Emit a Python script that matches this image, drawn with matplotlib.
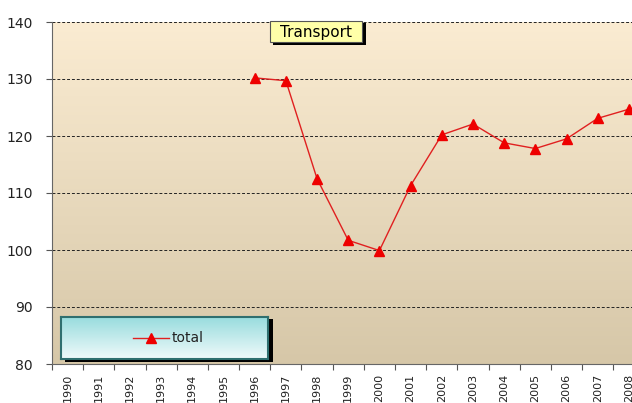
import numpy as np
import matplotlib
matplotlib.use('Agg')
from matplotlib import pyplot as plt
from matplotlib.patches import Rectangle

years = [str(y) for y in range(1990, 2009)]
total = [None, None, None, None, None, None,
         130.2, 129.7, 112.5, 101.7, 99.9, 111.3, 120.2, 122.1, 118.8, 117.8, 119.5, 123.1, 124.7]
yticks = [80, 90, 100, 110, 120, 130, 140]

x = np.arange(len(years))
y = np.array([np.nan if v is None else v for v in total])

fig = plt.figure(figsize=(6.32, 4.03), dpi=100)
ax = fig.add_axes([52/632, 1-364/403, 1-52/632, (364-22)/403])

xmax = 18.6

# background gradient
grad = np.linspace(0, 1, 256).reshape(-1, 1)
top = np.array([251, 236, 210]) / 255
bot = np.array([214, 199, 168]) / 255
img = (top * (1 - grad[..., None]) + bot * grad[..., None]).reshape(256, 1, 3)
ax.imshow(img, extent=[0, xmax, 80, 140], aspect='auto', zorder=0, origin='upper')

for v in yticks[1:]:
    ax.axhline(v, color='#222222', lw=0.7, ls=(0, (3, 2)), zorder=1)

ax.plot(x + 0.5, y, color='#e02020', lw=1, marker='^', ms=7,
        markerfacecolor='#ee0000', markeredgecolor='#ee0000', zorder=3)

ax.set_yticks(yticks)
ax.set_yticklabels([str(v) for v in yticks], fontsize=10, color='#222222')
ax.set_xticks(x)
ax.set_xticklabels([])
ax.set_xticks(x + 0.5, minor=True)
ax.set_xticklabels(years, minor=True, rotation=90, fontsize=8, color='#222222')
ax.tick_params(axis='x', which='minor', length=0, pad=7)
ax.tick_params(axis='x', which='major', length=4, direction='out', color='#555555')
ax.tick_params(axis='y', length=4, direction='out', color='#555555', pad=10)
ax.set_xlim(0, xmax)
ax.set_ylim(80, 140)
for s in ['top', 'right']:
    ax.spines[s].set_visible(False)
ax.spines['left'].set_color('#666666')
ax.spines['bottom'].set_color('#666666')

# title box
fig.patches.append(Rectangle((273/632, 1-45/403), 93/632, 22/403, transform=fig.transFigure,
                             facecolor='black', edgecolor='none', zorder=5))
fig.patches.append(Rectangle((270/632, 1-42/403), 92/632, 21/403, transform=fig.transFigure,
                             facecolor='#ffffa8', edgecolor='#555555', lw=0.8, zorder=6))
fig.text(316/632, 1-32/403, 'Transport', ha='center', va='center', fontsize=11,
         zorder=7)

# legend box
fig.patches.append(Rectangle((65/632, 1-362/403), 208/632, 43/403, transform=fig.transFigure,
                             facecolor='black', edgecolor='none', zorder=5))
lax = fig.add_axes([61/632, 1-359/403, 207/632, 42/403], zorder=6)
lgrad = np.linspace(0, 1, 256).reshape(-1, 1)
ltop = np.array([152, 220, 222]) / 255
lbot = np.array([240, 250, 250]) / 255
limg = (ltop * (1 - lgrad[..., None]) + lbot * lgrad[..., None]).reshape(256, 1, 3)
lax.imshow(limg, extent=[0, 1, 0, 1], aspect='auto', origin='upper')
lax.set_xlim(0, 1)
lax.set_ylim(0, 1)
lax.set_xticks([])
lax.set_yticks([])
for s in lax.spines.values():
    s.set_color('#2f6f6f')
    s.set_linewidth(1.5)
lax.plot([0.35, 0.52], [0.5, 0.5], color='#e02020', lw=1)
lax.plot([0.435], [0.5], marker='^', ms=7, color='#ee0000', ls='none')
lax.text(0.535, 0.5, 'total', va='center', fontsize=10, color='#222222')

fig.savefig('out.png', dpi=100)
